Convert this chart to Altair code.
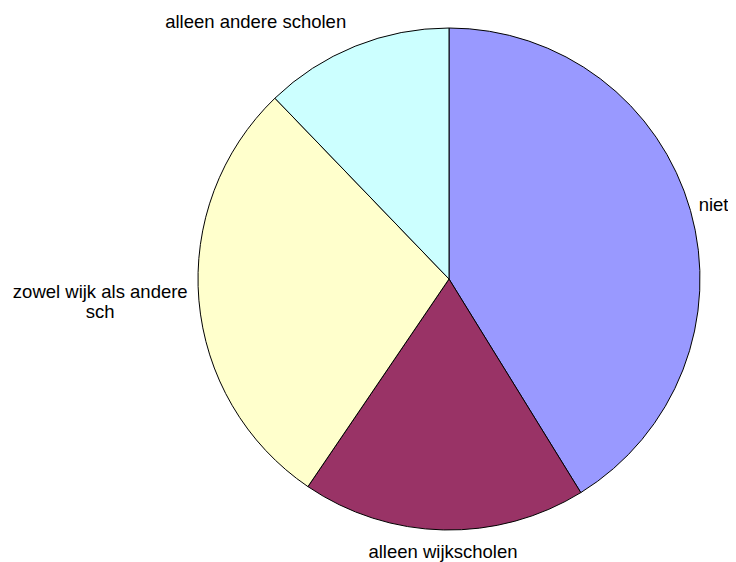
import altair as alt
import pandas as pd

categories = ["niet", "alleen wijkscholen", "zowel wijk als andere sch", "alleen andere scholen"]
labels = ["niet", "alleen wijkscholen", "zowel wijk als andere\nsch", "alleen andere scholen"]
values = [41.2, 18.3, 28.3, 12.2]
colors = ["#9999FF", "#993366", "#FFFFCC", "#CCFFFF"]

df = pd.DataFrame({
    "category": categories,
    "label": labels,
    "value": values,
    "idx": list(range(len(categories))),
})

CX, CY, R = 441, 271, 251
FONT = "Liberation Sans"

base = alt.Chart(df)

pie = base.mark_arc(outerRadius=R, stroke="black", strokeWidth=1).encode(
    theta=alt.Theta("value:Q", stack=True),
    order=alt.Order("idx:Q"),
    color=alt.Color("category:N", scale=alt.Scale(domain=categories, range=colors), legend=None),
    x=alt.value(CX),
    y=alt.value(CY),
)

lab_base = base.transform_joinaggregate(total="sum(value)").transform_window(
    cum="sum(value)", sort=[alt.SortField("idx")], frame=[None, 0]
).transform_calculate(
    mid="(datum.cum - datum.value / 2) / datum.total * 2 * PI"
)

# (radius, dx, dy) per label
placement = {
    "niet": (275, 0, 1),
    "alleen wijkscholen": (273, 0, 0),
    "zowel wijk als andere sch": (350, 0, -17),
    "alleen andere scholen": (279, -89, 2),
}

layers = [pie]
for cat in categories:
    r, dx, dy = placement[cat]
    layers.append(
        lab_base.transform_filter(alt.datum.category == cat).mark_text(
            radius=r, dx=dx, dy=dy, font=FONT, fontSize=18.5, color="black",
            align="center", baseline="middle", lineBreak="\n", lineHeight=20,
        ).encode(
            theta=alt.Theta("mid:Q", scale=None, stack=None),
            text="label:N",
            x=alt.value(CX),
            y=alt.value(CY),
        )
    )

chart = alt.layer(*layers).properties(
    width=720, height=554, padding=0,
    autosize=alt.AutoSizeParams(type="none"),
).configure_view(stroke=None)

chart.save("out.html", embed_options={"renderer": "svg", "actions": False})
